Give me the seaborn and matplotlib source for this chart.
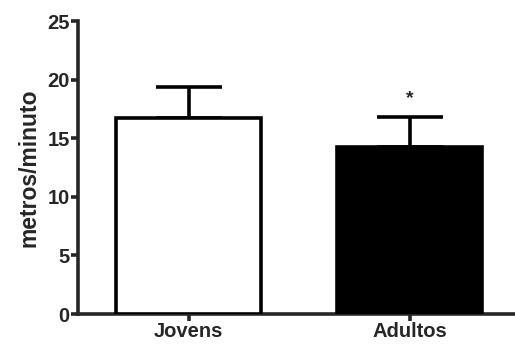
import matplotlib
matplotlib.use("Agg")
import matplotlib.pyplot as plt
import seaborn as sns
import pandas as pd

# dados
grupos = ["Jovens", "Adultos"]
medias = [16.7, 14.25]
erros = [2.7, 2.6]
cores = ["white", "black"]
yticks = [0, 5, 10, 15, 20, 25]

sns.set_style("ticks")
plt.rcParams['font.family'] = ['Liberation Sans', 'DejaVu Sans']

df = pd.DataFrame({"grupo": grupos, "media": medias})

fig = plt.figure(figsize=(5.15, 3.47), dpi=100)
ax = fig.add_axes([0.1515, 0.095, 0.8485, 0.8444])

sns.barplot(data=df, x="grupo", y="media", hue="grupo", palette=cores,
            width=0.655, edgecolor="black", linewidth=2.6, legend=False,
            errorbar=None, ax=ax, zorder=3)

# so a barra de erro superior
ax.errorbar(range(len(grupos)), medias, yerr=[[0, 0], erros], fmt="none",
            ecolor="black", elinewidth=2.6, capsize=23.5, capthick=2.6, zorder=2)

ax.text(1, medias[1] + erros[1] + 1.5, "*", ha="center", va="center",
        fontsize=14, fontweight="bold")

ax.set_xlim(-0.5, 1.475)
ax.set_ylim(0, 25)
ax.set_yticks(yticks)
ax.set_xlabel("")
ax.set_ylabel("metros/minuto", fontsize=16.5, fontweight="bold", labelpad=5)
for lab in ax.get_xticklabels() + ax.get_yticklabels():
    lab.set_fontweight("bold")
    lab.set_fontsize(14.5)

for s in ["top", "right"]:
    ax.spines[s].set_visible(False)
for s in ["left", "bottom"]:
    ax.spines[s].set_linewidth(2.6)
ax.tick_params(width=2.6, length=5, pad=1)

fig.savefig("out.png", dpi=100)
